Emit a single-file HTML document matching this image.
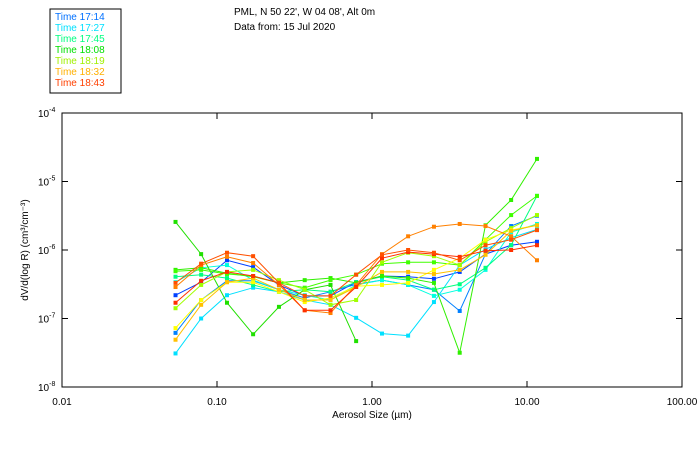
<!DOCTYPE html>
<html><head><meta charset="utf-8"><style>
body{margin:0;background:#fff;width:700px;height:450px;overflow:hidden;font-family:"Liberation Sans",sans-serif}
svg text{font-family:"Liberation Sans",sans-serif;font-size:10px}
</style></head><body>
<svg id="chart" width="700" height="450" xmlns="http://www.w3.org/2000/svg">
<g>
<rect x="50" y="9" width="71" height="84" fill="#fff" stroke="#000"/>
<text x="55" y="20" fill="#0070ff">Time 17:14</text>
<text x="55" y="31" fill="#00e0ff">Time 17:27</text>
<text x="55" y="42" fill="#00ff80">Time 17:45</text>
<text x="55" y="53" fill="#00e000">Time 18:08</text>
<text x="55" y="64" fill="#a0f000">Time 18:19</text>
<text x="55" y="75" fill="#ffb000">Time 18:32</text>
<text x="55" y="86" fill="#ff4000">Time 18:43</text>
</g>
<text x="234" y="15">PML, N 50 22', W 04 08', Alt 0m</text>
<text x="234" y="30">Data from: 15 Jul 2020</text>
<rect x="62" y="113" width="620" height="274" fill="none" stroke="#000"/>
<g id="axes"></g>
<g id="series"></g>
<text x="372" y="418" text-anchor="middle">Aerosol Size (µm)</text>
<text transform="translate(28,250) rotate(-90)" text-anchor="middle">dV/d(log R) (cm³/cm⁻³)</text>
</svg>
<script>
const NS="http://www.w3.org/2000/svg";
const xTickLabels=["0.01","0.10","1.00","10.00","100.00"];
const yTickExps=[-4,-5,-6,-7,-8];
const sizes=[0.054,0.079,0.116,0.171,0.251,0.368,0.54,0.79,1.16,1.71,2.51,3.68,5.4,7.9,11.6];
const colors=["#0040ff","#0080ff","#00e0ff","#00ffe0","#00ff80","#20e000","#30f000","#40ff00","#a0ff00","#ffff00","#ffc000","#ff8000","#ff3000","#ff5000"];
// log10 of dV/d(log R)
const s1=[-6.66,-6.47,-6.15,-6.25,-6.51,-6.67,-6.67,-6.47,-6.38,-6.39,-6.42,-6.32,-6.06,-5.93,-5.88];
const s2=[-7.21,-6.73,-6.45,-6.45,-6.58,-6.70,-6.61,-6.50,-6.44,-6.51,-6.58,-6.89,-6.06,-5.65,-5.50];
const s3=[-7.51,-7.00,-6.66,-6.55,-6.61,-6.73,-6.80,-6.99,-7.22,-7.25,-6.76,-6.22,-5.99,-5.82,-5.70];
const s4=[-6.47,-6.26,-6.22,-6.44,-6.58,-6.66,-6.73,-6.51,-6.44,-6.51,-6.67,-6.58,-6.29,-5.74,-5.62];
const s5=[-6.39,-6.36,-6.41,-6.51,-6.61,-6.58,-6.61,-6.47,-6.39,-6.44,-6.58,-6.50,-6.26,-5.93,-5.21];
const s6=[-5.59,-6.06,-6.77,-7.23,-6.83,-6.58,-6.51,-7.33,null,null,null,null,null,null,null];
const s7=[-6.29,-6.26,-6.34,-6.39,-6.48,-6.44,-6.41,-6.48,-6.38,-6.41,-6.48,-7.50,-5.64,-5.27,-4.67];
const s8=[-6.31,-6.29,-6.35,-6.38,-6.48,-6.55,-6.44,-6.36,-6.20,-6.18,-6.18,-6.22,-5.85,-5.49,-5.21];
const s9=[-6.85,-6.51,-6.32,-6.29,-6.44,-6.58,-6.80,-6.73,-6.18,-6.04,-6.09,-6.22,-5.88,-5.68,-5.49];
const s10=[-7.14,-6.73,-6.47,-6.47,-6.61,-6.76,-6.70,-6.53,-6.51,-6.48,-6.29,-6.12,-5.85,-5.71,-5.64];
const s11=[-7.31,-6.80,-6.47,-6.41,-6.58,-6.73,-6.73,-6.54,-6.32,-6.32,-6.35,-6.29,-6.07,-5.72,-5.64];
const s12=[-6.54,-6.22,-6.10,-6.19,-6.51,-6.88,-6.92,-6.51,-6.06,-5.80,-5.66,-5.62,-5.65,-5.80,-6.15];
const s13=[-6.77,-6.45,-6.32,-6.38,-6.48,-6.88,-6.88,-6.54,-6.12,-6.03,-6.06,-6.10,-6.01,-6.00,-5.93];
const s14=[-6.48,-6.20,-6.04,-6.09,-6.48,-6.67,-6.67,-6.36,-6.07,-6.00,-6.04,-6.15,-5.93,-5.85,-5.71];
const allSeries=[s1,s2,s3,s4,s5,s6,s7,s8,s9,s10,s11,s12,s13,s14];
const X0=62,X1=682,Y0=113,Y1=387;
function xs(v){return X0+(Math.log10(v)+2)/4*(X1-X0);}
function ys(e){return Y0+(-4-e)/4*(Y1-Y0);}
const ax=document.getElementById('axes');
xTickLabels.forEach((lab,i)=>{
  const x=xs(parseFloat(lab));
  if(i>0&&i<4){
    const t=document.createElementNS(NS,'path');
    t.setAttribute('d',`M${x},${Y1}v-6M${x},${Y0}v6`);t.setAttribute('stroke','#000');
    
    
    ax.appendChild(t);
  }
  const tx=document.createElementNS(NS,'text');
  tx.setAttribute('x',x);tx.setAttribute('y',405);tx.setAttribute('text-anchor','middle');
  tx.textContent=lab;
  
  
  ax.appendChild(tx);
});
yTickExps.forEach((e,i)=>{
  const y=ys(e);
  if(i>0&&i<4){
    const t=document.createElementNS(NS,'path');
    t.setAttribute('d',`M${X0},${y}h6M${X1},${y}h-6`);t.setAttribute('stroke','#000');
    
    
    ax.appendChild(t);
  }
  const tx=document.createElementNS(NS,'text');
  tx.setAttribute('x',38);tx.setAttribute('y',y+4);
  tx.innerHTML='10<tspan dy="-5" font-size="7">'+e+'</tspan>';
  
  
  ax.appendChild(tx);
});
const sg=document.getElementById('series');
allSeries.forEach((s,k)=>{
  const g=document.createElementNS(NS,'g');
  
  
  let d='';let pen=false;
  s.forEach((e,i)=>{
    if(e===null){pen=false;return;}
    d+=(pen?'L':'M')+xs(sizes[i]).toFixed(1)+','+ys(e).toFixed(1);pen=true;
  });
  const p=document.createElementNS(NS,'path');
  p.setAttribute('d',d);p.setAttribute('fill','none');p.setAttribute('stroke',colors[k]);p.setAttribute('stroke-width','1');
  
  
  g.appendChild(p);
  s.forEach((e,i)=>{
    if(e===null)return;
    const r=document.createElementNS(NS,'rect');
    r.setAttribute('x',xs(sizes[i])-2);r.setAttribute('y',ys(e)-2);
    r.setAttribute('width',4);r.setAttribute('height',4);r.setAttribute('fill',colors[k]);
    
    
    g.appendChild(r);
  });
  sg.appendChild(g);
});
</script>
</body></html>
